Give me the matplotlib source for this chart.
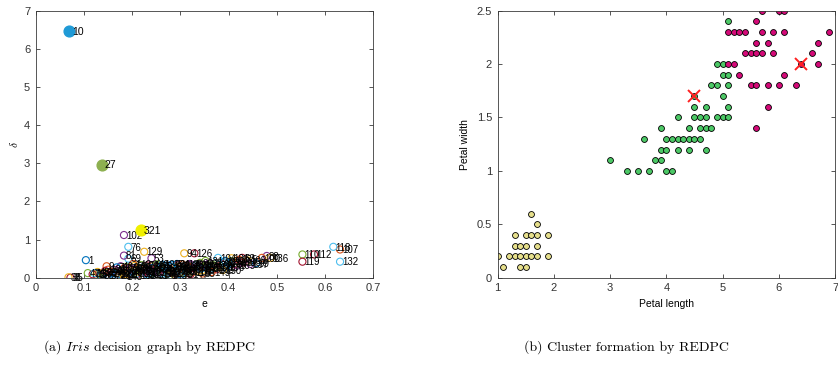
import matplotlib
matplotlib.use('Agg')
import matplotlib.pyplot as plt
import numpy as np

plt.rcParams['font.family'] = ['Liberation Sans', 'DejaVu Sans']
plt.rcParams['mathtext.fontset'] = 'cm'

# (a) decision graph: e (x) and delta (y) for samples 1..150
e_vals = [
    0.104, 0.155, 0.178, 0.201, 0.132, 0.224, 0.246, 0.268, 0.147, 0.069,
    0.190, 0.213, 0.236, 0.258, 0.281, 0.303, 0.126, 0.165, 0.187, 0.209,
    0.232, 0.254, 0.276, 0.298, 0.320, 0.142, 0.137, 0.172, 0.195, 0.217,
    0.240, 0.218, 0.285, 0.307, 0.072, 0.160, 0.183, 0.068, 0.228, 0.250,
    0.272, 0.295, 0.317, 0.340, 0.128, 0.176, 0.108, 0.198, 0.221, 0.243,
    0.265, 0.288, 0.240, 0.310, 0.333, 0.355, 0.150, 0.346, 0.205, 0.227,
    0.249, 0.271, 0.428, 0.293, 0.316, 0.338, 0.360, 0.383, 0.192, 0.118,
    0.168, 0.190, 0.213, 0.235, 0.257, 0.192, 0.279, 0.301, 0.323, 0.346,
    0.183, 0.368, 0.390, 0.412, 0.136, 0.162, 0.185, 0.479, 0.207, 0.230,
    0.252, 0.274, 0.296, 0.308, 0.318, 0.341, 0.363, 0.385, 0.457, 0.469,
    0.406, 0.183, 0.407, 0.378, 0.430, 0.395, 0.631, 0.440, 0.418, 0.553,
    0.260, 0.577, 0.282, 0.304, 0.326, 0.348, 0.370, 0.617, 0.553, 0.393,
    0.150, 0.173, 0.196, 0.218, 0.241, 0.329, 0.263, 0.285, 0.225, 0.335,
    0.352, 0.631, 0.375, 0.400, 0.422, 0.487, 0.445, 0.212, 0.122, 0.144,
    0.169, 0.202, 0.183, 0.255, 0.277, 0.299, 0.321, 0.343, 0.365, 0.388,
]
delta_vals = [
    0.46, 0.12, 0.16, 0.22, 0.10, 0.28, 0.19, 0.31, 0.30, 6.47,
    0.09, 0.26, 0.14, 0.22, 0.34, 0.17, 0.08, 0.20, 0.28, 0.11,
    0.32, 0.24, 0.13, 0.29, 0.36, 0.14, 2.97, 0.06, 0.17, 0.23,
    0.30, 1.25, 0.20, 0.25, 0.00, 0.12, 0.25, 0.01, 0.18, 0.35,
    0.09, 0.33, 0.21, 0.30, 0.15, 0.30, 0.12, 0.14, 0.07, 0.26,
    0.18, 0.27, 0.51, 0.12, 0.33, 0.27, 0.07, 0.11, 0.31, 0.12,
    0.05, 0.25, 0.52, 0.36, 0.30, 0.18, 0.38, 0.30, 0.50, 0.09,
    0.27, 0.19, 0.16, 0.22, 0.30, 0.81, 0.21, 0.08, 0.26, 0.20,
    0.58, 0.33, 0.40, 0.35, 0.05, 0.16, 0.10, 0.57, 0.20, 0.09,
    0.28, 0.16, 0.22, 0.64, 0.33, 0.39, 0.24, 0.36, 0.38, 0.52,
    0.51, 1.12, 0.43, 0.52, 0.40, 0.27, 0.74, 0.45, 0.32, 0.61,
    0.12, 0.61, 0.29, 0.35, 0.15, 0.34, 0.28, 0.81, 0.42, 0.44,
    0.21, 0.11, 0.24, 0.33, 0.10, 0.64, 0.34, 0.11, 0.68, 0.29,
    0.44, 0.42, 0.22, 0.38, 0.47, 0.52, 0.36, 0.05, 0.12, 0.18,
    0.08, 0.36, 0.03, 0.14, 0.06, 0.19, 0.09, 0.24, 0.15, 0.20,
]
point_labels = [str(i) for i in range(1, 151)]
center_ids = [10, 27, 32]
center_labels = {32: '321'}
center_colors = ['#1f9ad6', '#8db050', '#f0f000']

# (b) clusters: petal length / petal width
setosa_len = [1.0, 1.1, 1.2, 1.3, 1.3, 1.3, 1.4, 1.4, 1.4, 1.5, 1.5,
              1.5, 1.5, 1.6, 1.6, 1.6, 1.7, 1.7, 1.7, 1.7, 1.9, 1.9]
setosa_wid = [0.2, 0.1, 0.2, 0.4, 0.3, 0.2, 0.3, 0.2, 0.1, 0.4, 0.3,
              0.2, 0.1, 0.6, 0.4, 0.2, 0.5, 0.4, 0.3, 0.2, 0.4, 0.2]
versi_len = [3.0, 3.3, 3.5, 3.7, 4.0, 4.1, 3.8, 3.9,
             3.9, 4.0, 4.2, 4.4, 4.7,
             3.6, 4.0, 4.1, 4.2, 4.3, 4.4, 4.5, 4.6,
             3.9, 4.4, 4.6, 4.7, 4.8,
             4.2, 4.5, 4.6, 4.7, 4.9, 5.0, 5.1,
             4.5, 4.7, 5.1, 4.5, 5.0, 4.8, 4.9, 5.1,
             5.0, 5.1, 4.9, 5.0, 5.1]
versi_wid = [1.1, 1.0, 1.0, 1.0, 1.0, 1.0, 1.1, 1.1,
             1.2, 1.2, 1.2, 1.2, 1.2,
             1.3, 1.3, 1.3, 1.3, 1.3, 1.3, 1.3, 1.3,
             1.4, 1.4, 1.4, 1.4, 1.4,
             1.5, 1.5, 1.5, 1.5, 1.5, 1.5, 1.5,
             1.6, 1.6, 1.6, 1.7, 1.7, 1.8, 1.8, 1.8,
             1.9, 1.9, 2.0, 2.0, 2.4]
virg_len = [5.7, 6.0, 6.1, 5.6,
            5.1, 5.2, 5.3, 5.4, 5.7, 5.9, 6.1, 6.9,
            5.6, 5.8, 6.7,
            5.4, 5.5, 5.6, 5.7, 5.9, 6.6,
            5.1, 5.2, 6.4, 6.7,
            5.3, 6.1,
            5.5, 5.6, 5.8, 6.0, 6.3,
            5.8, 5.6]
virg_wid = [2.5, 2.5, 2.5, 2.4,
            2.3, 2.3, 2.3, 2.3, 2.3, 2.3, 2.3, 2.3,
            2.2, 2.2, 2.2,
            2.1, 2.1, 2.1, 2.1, 2.1, 2.1,
            2.0, 2.0, 2.0, 2.0,
            1.9, 1.9,
            1.8, 1.8, 1.8, 1.8, 1.8,
            1.6, 1.4]
centers_len = [4.5, 6.4]
centers_wid = [1.7, 2.0]

xticks_a = [0, 0.1, 0.2, 0.3, 0.4, 0.5, 0.6, 0.7]
yticks_a = [0, 1, 2, 3, 4, 5, 6, 7]
xticks_b = [1, 2, 3, 4, 5, 6, 7]
yticks_b = [0, 0.5, 1, 1.5, 2, 2.5]
yticklabels_b = ['0', '0.5', '1', '1.5', '2', '2.5']

matlab_colors = ['#0072bd', '#d95319', '#edb120', '#7e2f8e',
                 '#77ac30', '#4dbeee', '#a2142f']


def style_axes(ax):
    for s in ax.spines.values():
        s.set_color('#3a3a3a')
        s.set_linewidth(0.6)
    ax.tick_params(direction='in', length=3, width=0.6, colors='#3a3a3a',
                   labelsize=8, top=True, right=True, pad=4)
    for lab in ax.get_xticklabels() + ax.get_yticklabels():
        lab.set_color('#333333')


fig = plt.figure(figsize=(8.38, 3.66), dpi=100)

# ---- panel (a)
ax1 = fig.add_axes([0.0426, 0.2413, 0.4029, 0.7287])
for i, (ex, dl) in enumerate(zip(e_vals, delta_vals)):
    idx = i + 1
    if idx in center_ids:
        continue
    ax1.scatter(ex, dl, s=26, facecolors='none',
                edgecolors=matlab_colors[i % 7], linewidths=0.8, zorder=2)
    ax1.annotate(point_labels[i], (ex, dl), xytext=(1.5, -0.5),
                 textcoords='offset points', fontsize=7, va='center',
                 ha='left', zorder=3)
for cid, col in zip(center_ids, center_colors):
    ex, dl = e_vals[cid - 1], delta_vals[cid - 1]
    ax1.scatter(ex, dl, s=60, color=col, zorder=4)
    ax1.annotate(center_labels.get(cid, str(cid)), (ex, dl),
                 xytext=(2, -0.5), textcoords='offset points', fontsize=7.5,
                 va='center', ha='left', zorder=5)
ax1.set_xlim(0, 0.7)
ax1.set_ylim(0, 7)
ax1.set_xticks(xticks_a)
ax1.set_xticklabels([('%g' % t) for t in xticks_a])
ax1.set_yticks(yticks_a)
ax1.set_xlabel('e', fontsize=7.5, labelpad=4)
ax1.set_ylabel(r'$\delta$', fontsize=8, labelpad=3)
style_axes(ax1)

# ---- panel (b)
ax2 = fig.add_axes([0.5939, 0.2413, 0.4025, 0.7295])
ax2.scatter(setosa_len, setosa_wid, s=18, color='#e6df8c',
            edgecolors='black', linewidths=0.6, zorder=2)
ax2.scatter(versi_len, versi_wid, s=18, color='#4cc866',
            edgecolors='black', linewidths=0.6, zorder=2)
ax2.scatter(virg_len, virg_wid, s=18, color='#d40a78',
            edgecolors='black', linewidths=0.6, zorder=2)
ax2.plot(centers_len, centers_wid, 'x', color='#ff2020', ms=9, mew=1.4,
         zorder=3)
ax2.set_xlim(1, 7)
ax2.set_ylim(0, 2.5)
ax2.set_xticks(xticks_b)
ax2.set_yticks(yticks_b)
ax2.set_yticklabels(yticklabels_b)
ax2.set_xlabel('Petal length', fontsize=7.5, labelpad=4)
ax2.set_ylabel('Petal width', fontsize=7.5, labelpad=5)
style_axes(ax2)

fig.text(0.179, 0.052, r'(a) $\mathit{Iris}$ decision graph by REDPC',
         family='cmr10', fontsize=10, ha='center', va='center')
fig.text(0.747, 0.052, '(b) Cluster formation by REDPC',
         family='cmr10', fontsize=10, ha='center', va='center')

fig.savefig('out.png', dpi=100)
